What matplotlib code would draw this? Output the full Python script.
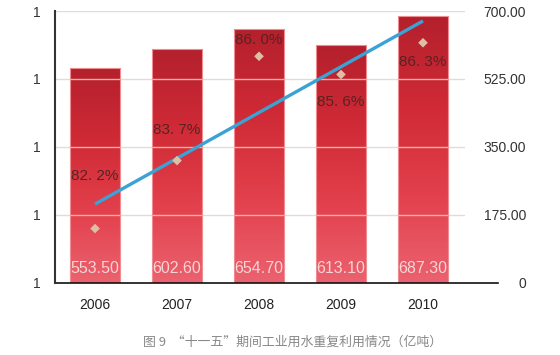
import numpy as np
import matplotlib.pyplot as plt
import matplotlib.colors as mcolors

years = ["2006", "2007", "2008", "2009", "2010"]
reuse_amount = [553.50, 602.60, 654.70, 613.10, 687.30]   # 亿吨, right axis
reuse_rate = [82.2, 83.7, 86.0, 85.6, 86.3]               # %, left axis
rate_labels = ["82. 2%", "83. 7%", "86. 0%", "85. 6%", "86. 3%"]
right_ticks = [0, 175, 350, 525, 700]
caption = "图 9  “十一五”期间工业用水重复利用情况（亿吨）"

# label offsets (points) for the percentage texts
label_offsets = [(0, 38), (0, 22), (0, 12), (0, -20), (0, -14)]

plt.rcParams['font.family'] = ['Liberation Sans', 'Noto Sans CJK SC', 'DejaVu Sans']

fig = plt.figure(figsize=(5.6, 3.55), dpi=100)
rect = [0.098, 0.203, 0.732, 0.766]
ax2 = fig.add_axes(rect)                 # bars, right scale
ax = fig.add_axes(rect, sharex=ax2)      # percentages, left scale
ax.patch.set_visible(False)

x = np.arange(len(years))
amount = np.array(reuse_amount)

# bars with vertical gradient
bars = ax2.bar(x, amount, width=0.62, color='none',
               edgecolor='#f08c90', linewidth=0.8, zorder=2)
cmap = mcolors.LinearSegmentedColormap.from_list(
    'barred', ['#b3202c', '#cf2a36', '#e2404c', '#eb6270'])
grad = np.linspace(0, 1, 256).reshape(-1, 1)
for b in bars:
    x0, w, h = b.get_x(), b.get_width(), b.get_height()
    im = ax2.imshow(grad, cmap=cmap, aspect='auto', origin='upper',
                    extent=[x0, x0 + w, 0, h], zorder=1)
    im.set_clip_path(b)
ax2.set_xlim(-0.49, 4.51)
ax2.set_ylim(0, 700)

for xi, v in zip(x, reuse_amount):
    ax2.text(xi, 38, f"{v:.2f}", ha='center', va='center',
             color='#f8d4d4', fontsize=11.5, zorder=5)

# grid lines (light grey on white, peach across the bars)
for t in right_ticks[1:]:
    ax2.axhline(t, color='#e2dcd8', lw=1.0, zorder=0)
    over = x[amount > t]
    ax2.hlines([t] * len(over), over - 0.31, over + 0.31,
               color='#f4b09c', lw=1.0, zorder=3)

ax2.yaxis.tick_right()
ax2.set_yticks(right_ticks)
ax2.set_yticklabels(["0"] + [f"{t:.2f}" for t in right_ticks[1:]])
ax2.tick_params(axis='y', length=0, pad=44, labelsize=10, labelcolor='#333333')
for lab in ax2.get_yticklabels():
    lab.set_ha('right')
ax2.set_xticks(x)
ax2.set_xticklabels(years)
ax2.tick_params(axis='x', length=0, pad=11, labelsize=10, labelcolor='#222222')
for s in ['top', 'right', 'left', 'bottom']:
    ax2.spines[s].set_visible(False)

# bottom axis line extending past plot
ax2.plot([0, 1.08], [0, 0], transform=ax2.transAxes, color='#111111',
         lw=1.2, clip_on=False, zorder=6)

# percentages on left scale
ax.set_ylim(81, 87)
ax.set_yticks(np.linspace(81, 87, 5))
ax.set_yticklabels(["1"] * 5)
ax.tick_params(axis='y', length=0, pad=10, labelsize=10, labelcolor='#333333')
ax.tick_params(axis='x', bottom=False, labelbottom=False)
for s in ['top', 'right', 'bottom']:
    ax.spines[s].set_visible(False)
ax.spines['left'].set_color('#333333')
ax.spines['left'].set_linewidth(1.5)

ax.scatter(x, reuse_rate, marker='D', s=24, color='#dcbfa4', zorder=5,
           edgecolors='none')
coef = np.polyfit(x, reuse_rate, 1)
trend = np.polyval(coef, x[[0, -1]])
ax.plot(x[[0, -1]], trend, color='#3aa2d4', lw=2.4, zorder=4,
        solid_capstyle='butt')
for xi, v, lab, off in zip(x, reuse_rate, rate_labels, label_offsets):
    ax.annotate(lab, (xi, v), xytext=off, textcoords='offset points',
                ha='center', va='center', fontsize=11, color='#5a2222',
                zorder=6)

fig.text(0.522, 0.035, caption, ha='center', va='center', fontsize=9.3,
         color='#888888', family=['Noto Sans CJK SC', 'DejaVu Sans'])

fig.savefig('out.png', dpi=100, facecolor='white')
